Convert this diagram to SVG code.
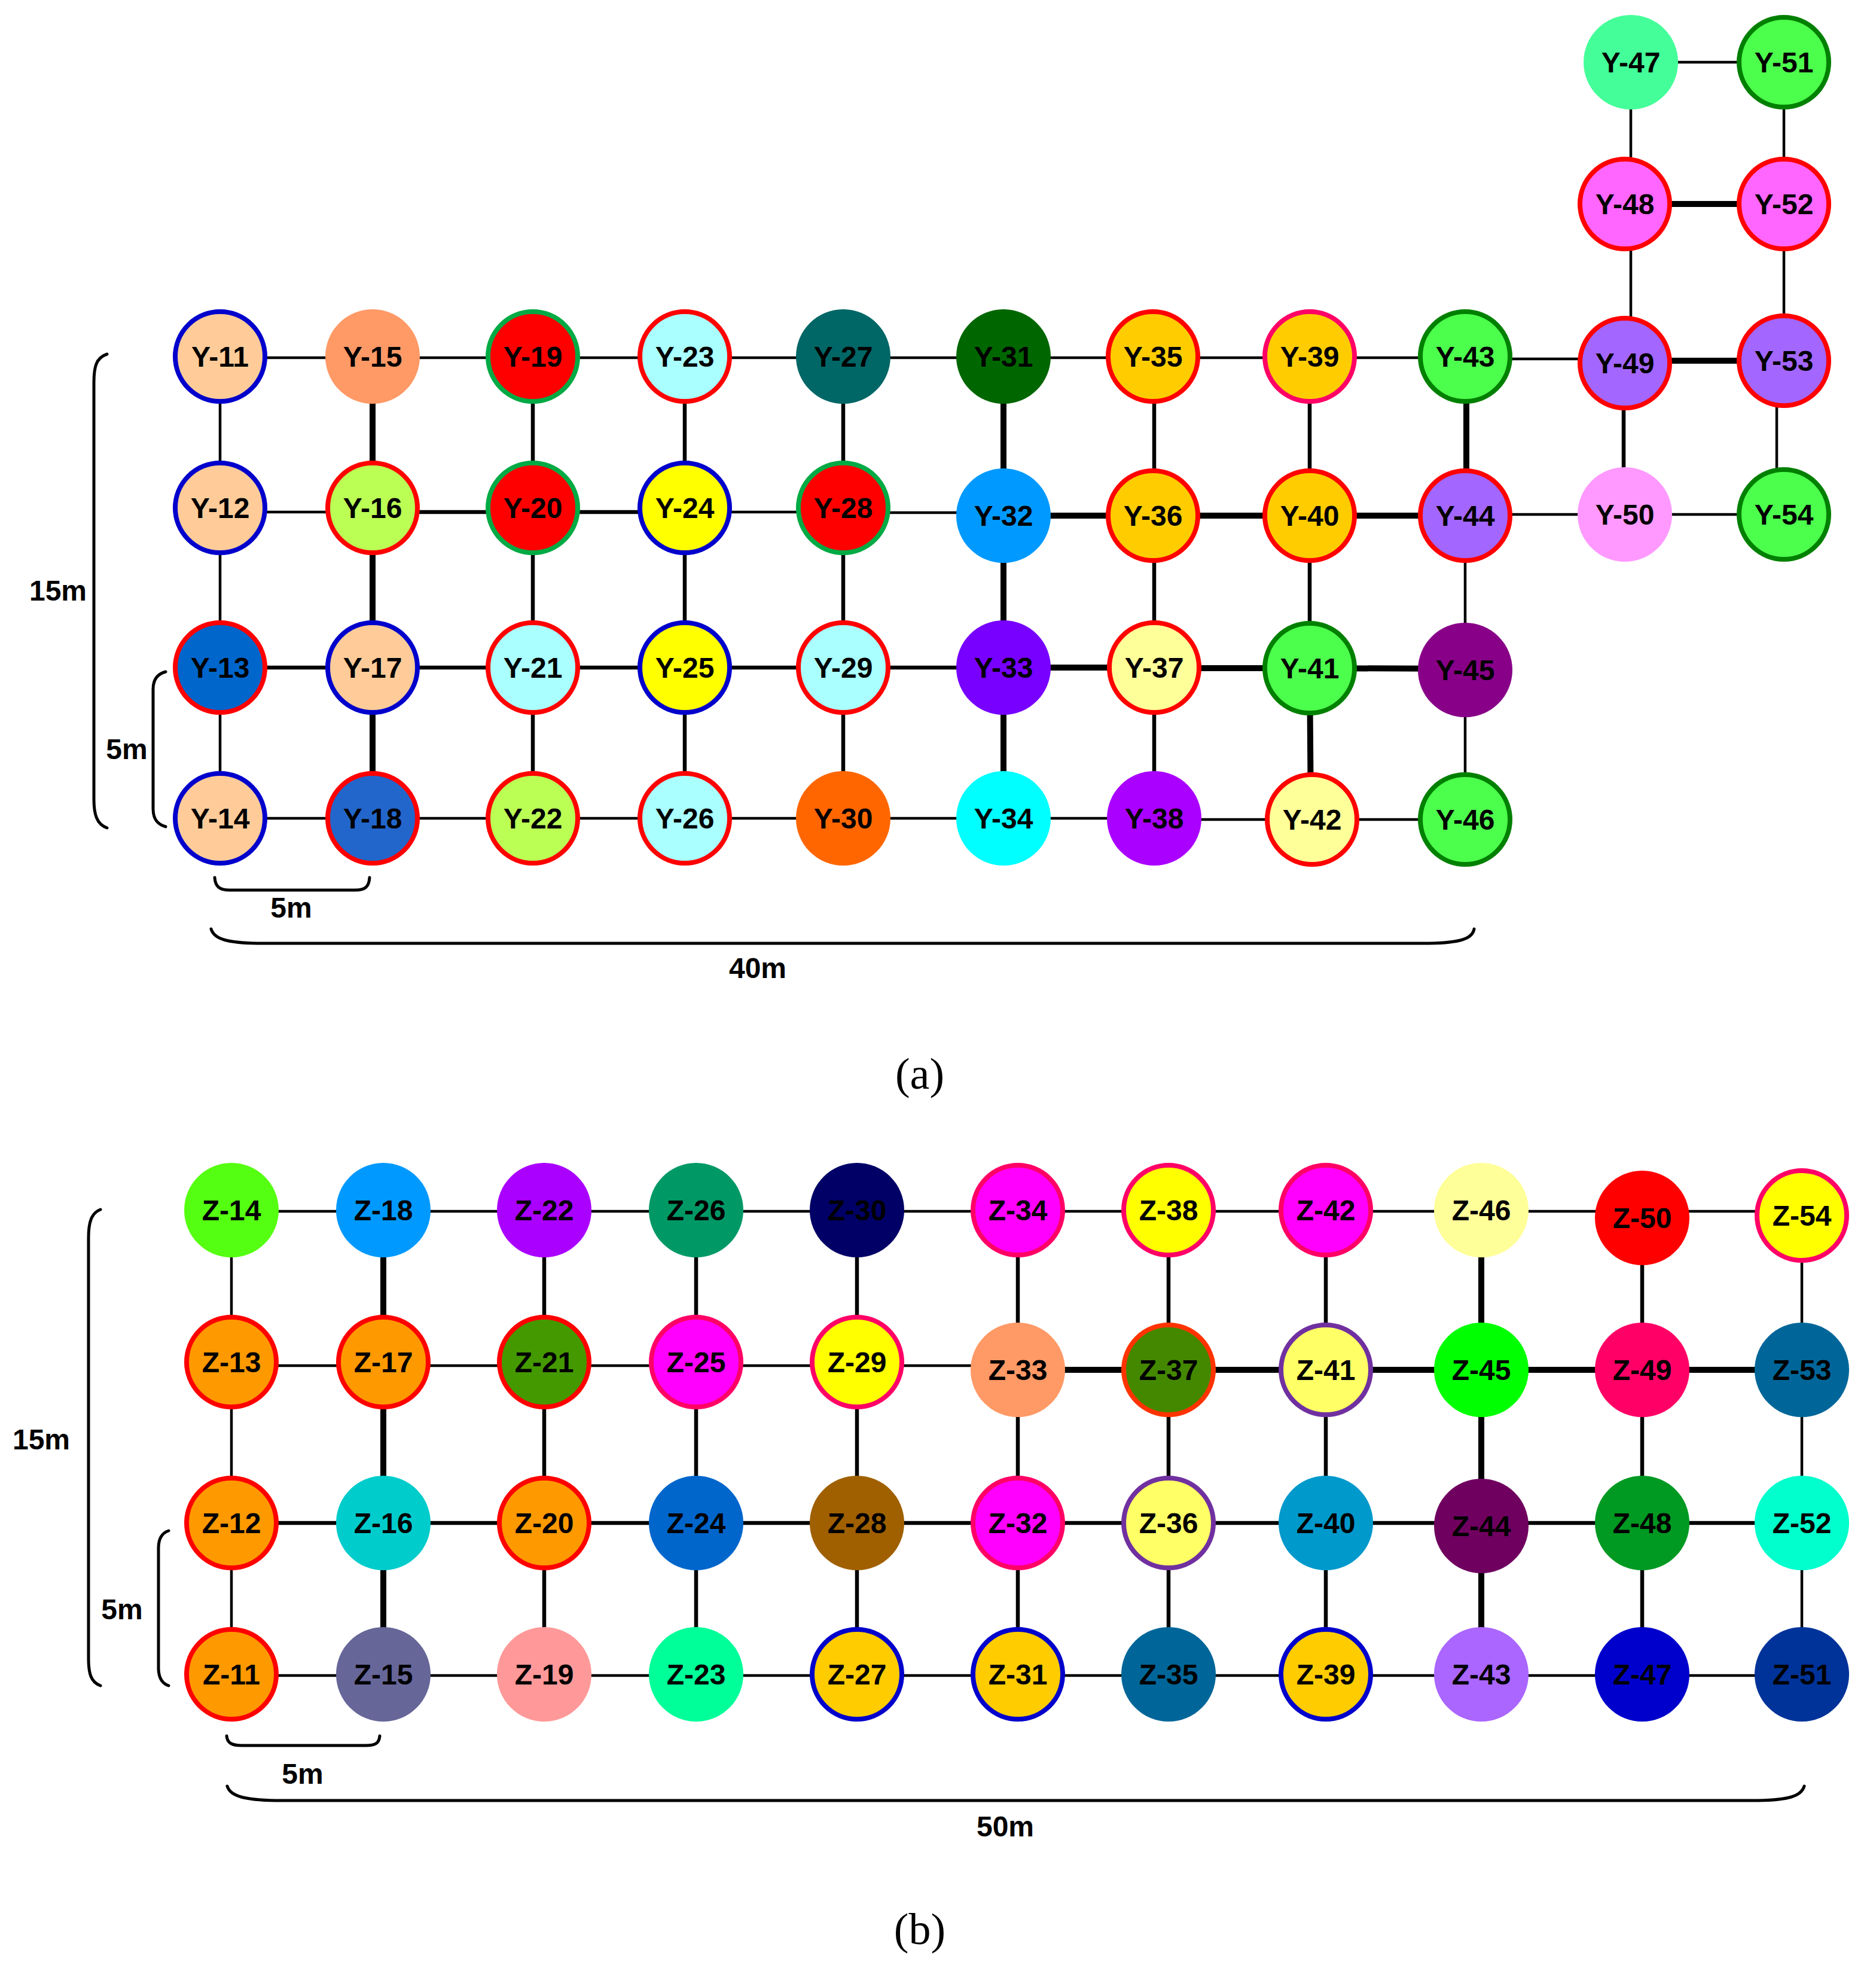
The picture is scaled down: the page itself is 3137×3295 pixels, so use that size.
<svg xmlns="http://www.w3.org/2000/svg" width="3137" height="3295" viewBox="0 0 3137 3295">
<style>
.bg{fill:#ffffff}
.e{stroke:#000;stroke-linecap:butt;fill:none}
.t{stroke-width:4.5}
.m{stroke-width:6.5}
.k{stroke-width:10}
.n circle{stroke-width:8}
.n text{font-family:"Liberation Sans",Arial,sans-serif;font-weight:bold;font-size:48px;text-anchor:middle;fill:#000}
.br{stroke:#000;stroke-width:5;fill:none;stroke-linecap:round}
.lbl{font-family:"Liberation Sans",Arial,sans-serif;font-weight:bold;font-size:48px;text-anchor:middle;fill:#000}
.cap{font-family:"Liberation Serif","Times New Roman",serif;font-size:74px;text-anchor:middle;fill:#000}
</style>
<rect class="bg" x="0" y="0" width="3137" height="3295"/>

<g id="connectors">
<!-- Y grid horizontals -->
<line class="e t" x1="368" y1="598" x2="623" y2="598"/>
<line class="e t" x1="623" y1="598" x2="891" y2="598"/>
<line class="e t" x1="891" y1="598" x2="1145" y2="598"/>
<line class="e t" x1="1145" y1="598" x2="1410" y2="598"/>
<line class="e t" x1="1410" y1="598" x2="1678" y2="598"/>
<line class="e t" x1="1678" y1="598" x2="1928" y2="598"/>
<line class="e t" x1="1928" y1="598" x2="2190" y2="598"/>
<line class="e t" x1="2190" y1="598" x2="2450" y2="598"/>
<line class="e t" x1="2450" y1="600" x2="2717" y2="600"/>
<line class="e k" x1="2717" y1="603" x2="2983" y2="603"/>
<line class="e t" x1="2727" y1="104" x2="2983" y2="104"/>
<line class="e k" x1="2717" y1="341" x2="2983" y2="341"/>
<line class="e t" x1="368" y1="856" x2="623" y2="856"/>
<line class="e m" x1="623" y1="856" x2="891" y2="856"/>
<line class="e m" x1="891" y1="856" x2="1145" y2="856"/>
<line class="e t" x1="1145" y1="856" x2="1410" y2="856"/>
<line class="e t" x1="1410" y1="857" x2="1678" y2="857"/>
<line class="e k" x1="1678" y1="862" x2="1928" y2="862"/>
<line class="e k" x1="1928" y1="862" x2="2190" y2="862"/>
<line class="e k" x1="2190" y1="862" x2="2450" y2="862"/>
<line class="e t" x1="2450" y1="860" x2="2717" y2="860"/>
<line class="e t" x1="2717" y1="860" x2="2983" y2="860"/>
<line class="e m" x1="368" y1="1116" x2="623" y2="1116"/>
<line class="e m" x1="623" y1="1116" x2="891" y2="1116"/>
<line class="e m" x1="891" y1="1116" x2="1145" y2="1116"/>
<line class="e m" x1="1145" y1="1116" x2="1410" y2="1116"/>
<line class="e m" x1="1410" y1="1116" x2="1678" y2="1116"/>
<line class="e k" x1="1678" y1="1116" x2="1928" y2="1116"/>
<line class="e k" x1="1928" y1="1117" x2="2190" y2="1117"/>
<line class="e k" x1="2190" y1="1117" x2="2450" y2="1118"/>
<line class="e t" x1="368" y1="1368" x2="623" y2="1368"/>
<line class="e t" x1="623" y1="1368" x2="891" y2="1368"/>
<line class="e t" x1="891" y1="1368" x2="1145" y2="1368"/>
<line class="e t" x1="1145" y1="1368" x2="1410" y2="1368"/>
<line class="e t" x1="1410" y1="1368" x2="1678" y2="1368"/>
<line class="e t" x1="1678" y1="1368" x2="1928" y2="1368"/>
<line class="e t" x1="1928" y1="1370" x2="2192" y2="1370"/>
<line class="e t" x1="2192" y1="1370" x2="2450" y2="1370"/>
<!-- Y grid verticals -->
<line class="e t" x1="368" y1="596" x2="368" y2="1368"/>
<line class="e k" x1="623" y1="596" x2="623" y2="1368"/>
<line class="e m" x1="891" y1="596" x2="891" y2="1368"/>
<line class="e m" x1="1145" y1="596" x2="1145" y2="1368"/>
<line class="e m" x1="1410" y1="596" x2="1410" y2="1368"/>
<line class="e k" x1="1678" y1="596" x2="1678" y2="1368"/>
<line class="e m" x1="1930" y1="596" x2="1930" y2="1368"/>
<line class="e m" x1="2190" y1="596" x2="2190" y2="1117"/>
<line class="e k" x1="2190" y1="1117" x2="2192" y2="1368"/>
<line class="e k" x1="2452" y1="596" x2="2452" y2="862"/>
<line class="e t" x1="2450" y1="862" x2="2450" y2="1368"/>
<line class="e t" x1="2727" y1="104" x2="2727" y2="607"/>
<line class="e m" x1="2715" y1="607" x2="2715" y2="860"/>
<line class="e t" x1="2983" y1="104" x2="2983" y2="603"/>
<line class="e t" x1="2971" y1="603" x2="2971" y2="860"/>

<!-- Z grid horizontals -->
<line class="e t" x1="387" y1="2025" x2="3013" y2="2025"/>
<line class="e t" x1="387" y1="2283" x2="1702" y2="2283"/>
<line class="e k" x1="1702" y1="2290" x2="3013" y2="2290"/>
<line class="e m" x1="387" y1="2546" x2="3013" y2="2546"/>
<line class="e t" x1="387" y1="2801" x2="3013" y2="2801"/>
<!-- Z grid verticals -->
<line class="e t" x1="387" y1="2023" x2="387" y2="2799"/>
<line class="e k" x1="641" y1="2023" x2="641" y2="2799"/>
<line class="e m" x1="910" y1="2023" x2="910" y2="2799"/>
<line class="e m" x1="1164" y1="2023" x2="1164" y2="2799"/>
<line class="e m" x1="1433" y1="2023" x2="1433" y2="2799"/>
<line class="e m" x1="1702" y1="2023" x2="1702" y2="2799"/>
<line class="e m" x1="1954" y1="2023" x2="1954" y2="2799"/>
<line class="e m" x1="2217" y1="2023" x2="2217" y2="2799"/>
<line class="e k" x1="2477" y1="2023" x2="2477" y2="2799"/>
<line class="e m" x1="2746" y1="2036" x2="2746" y2="2799"/>
<line class="e t" x1="3013" y1="2032" x2="3013" y2="2799"/>
</g>

<g id="dimensions">
<path class="br" d="M179,592 C160,598 157,615 157,640 L157,1336 C157,1362 162,1378 179,1384"/>
<path class="br" d="M277,1123 C262,1127 256,1137 256,1152 L256,1352 C256,1368 262,1378 277,1382"/>
<path class="br" d="M359,1467 C360,1483 368,1488 384,1488 L594,1488 C610,1488 617,1483 618,1467"/>
<path class="br" d="M353,1553 C358,1570 380,1576 430,1577 L2390,1577 C2440,1576 2462,1570 2465,1553"/>
<text class="lbl" x="97" y="1004">15m</text>
<text class="lbl" x="212" y="1269">5m</text>
<text class="lbl" x="487" y="1534">5m</text>
<text class="lbl" x="1267" y="1635">40m</text>
<text class="cap" x="1538" y="1820">(a)</text>

<path class="br" d="M168,2022 C152,2028 148,2045 148,2070 L148,2772 C148,2798 152,2812 168,2818"/>
<path class="br" d="M282,2559 C270,2563 265,2573 265,2588 L265,2788 C265,2804 270,2814 282,2818"/>
<path class="br" d="M379,2902 C380,2914 388,2918 404,2918 L612,2918 C628,2918 634,2914 635,2902"/>
<path class="br" d="M380,2986 C385,3003 410,3009 460,3010 L2940,3010 C2990,3009 3012,3003 3017,2986"/>
<text class="lbl" x="69" y="2423">15m</text>
<text class="lbl" x="204" y="2707">5m</text>
<text class="lbl" x="506" y="2982">5m</text>
<text class="lbl" x="1681" y="3070">50m</text>
<text class="cap" x="1538" y="3250">(b)</text>
</g>

<!-- Y nodes -->
<g id="Y-11" class="n"><circle cx="368" cy="596" r="75" fill="#ffcc99" stroke="#0000cc"/><text x="368" y="613">Y-11</text></g>
<g id="Y-12" class="n"><circle cx="368" cy="849" r="75" fill="#ffcc99" stroke="#0000cc"/><text x="368" y="866">Y-12</text></g>
<g id="Y-13" class="n"><circle cx="368" cy="1116" r="75" fill="#0066cc" stroke="#ff0000"/><text x="368" y="1133">Y-13</text></g>
<g id="Y-14" class="n"><circle cx="368" cy="1368" r="75" fill="#ffcc99" stroke="#0000cc"/><text x="368" y="1385">Y-14</text></g>
<g id="Y-15" class="n"><circle cx="623" cy="596" r="79" fill="#ff9966" stroke="none"/><text x="623" y="613">Y-15</text></g>
<g id="Y-16" class="n"><circle cx="623" cy="849" r="75" fill="#bbff55" stroke="#ff0000"/><text x="623" y="866">Y-16</text></g>
<g id="Y-17" class="n"><circle cx="623" cy="1116" r="75" fill="#ffcc99" stroke="#0000cc"/><text x="623" y="1133">Y-17</text></g>
<g id="Y-18" class="n"><circle cx="623" cy="1368" r="75" fill="#2266cc" stroke="#ff0000"/><text x="623" y="1385">Y-18</text></g>
<g id="Y-19" class="n"><circle cx="891" cy="596" r="75" fill="#ff0000" stroke="#00aa44"/><text x="891" y="613">Y-19</text></g>
<g id="Y-20" class="n"><circle cx="891" cy="849" r="75" fill="#ff0000" stroke="#00aa44"/><text x="891" y="866">Y-20</text></g>
<g id="Y-21" class="n"><circle cx="891" cy="1116" r="75" fill="#aaffff" stroke="#ff0000"/><text x="891" y="1133">Y-21</text></g>
<g id="Y-22" class="n"><circle cx="891" cy="1368" r="75" fill="#bbff55" stroke="#ff0000"/><text x="891" y="1385">Y-22</text></g>
<g id="Y-23" class="n"><circle cx="1145" cy="596" r="75" fill="#aaffff" stroke="#ff0000"/><text x="1145" y="613">Y-23</text></g>
<g id="Y-24" class="n"><circle cx="1145" cy="849" r="75" fill="#ffff00" stroke="#0000cc"/><text x="1145" y="866">Y-24</text></g>
<g id="Y-25" class="n"><circle cx="1145" cy="1116" r="75" fill="#ffff00" stroke="#0000cc"/><text x="1145" y="1133">Y-25</text></g>
<g id="Y-26" class="n"><circle cx="1145" cy="1368" r="75" fill="#aaffff" stroke="#ff0000"/><text x="1145" y="1385">Y-26</text></g>
<g id="Y-27" class="n"><circle cx="1410" cy="596" r="79" fill="#006666" stroke="none"/><text x="1410" y="613">Y-27</text></g>
<g id="Y-28" class="n"><circle cx="1410" cy="849" r="75" fill="#ff0000" stroke="#00aa44"/><text x="1410" y="866">Y-28</text></g>
<g id="Y-29" class="n"><circle cx="1410" cy="1116" r="75" fill="#aaffff" stroke="#ff0000"/><text x="1410" y="1133">Y-29</text></g>
<g id="Y-30" class="n"><circle cx="1410" cy="1368" r="79" fill="#ff6600" stroke="none"/><text x="1410" y="1385">Y-30</text></g>
<g id="Y-31" class="n"><circle cx="1678" cy="596" r="79" fill="#006600" stroke="none"/><text x="1678" y="613">Y-31</text></g>
<g id="Y-32" class="n"><circle cx="1678" cy="862" r="79" fill="#0099ff" stroke="none"/><text x="1678" y="879">Y-32</text></g>
<g id="Y-33" class="n"><circle cx="1678" cy="1116" r="79" fill="#7700ff" stroke="none"/><text x="1678" y="1133">Y-33</text></g>
<g id="Y-34" class="n"><circle cx="1678" cy="1368" r="79" fill="#00ffff" stroke="none"/><text x="1678" y="1385">Y-34</text></g>
<g id="Y-35" class="n"><circle cx="1928" cy="596" r="75" fill="#ffcc00" stroke="#ff0000"/><text x="1928" y="613">Y-35</text></g>
<g id="Y-36" class="n"><circle cx="1928" cy="862" r="75" fill="#ffcc00" stroke="#ff0000"/><text x="1928" y="879">Y-36</text></g>
<g id="Y-37" class="n"><circle cx="1930" cy="1116" r="75" fill="#ffff99" stroke="#ff0000"/><text x="1930" y="1133">Y-37</text></g>
<g id="Y-38" class="n"><circle cx="1930" cy="1368" r="79" fill="#aa00ff" stroke="none"/><text x="1930" y="1385">Y-38</text></g>
<g id="Y-39" class="n"><circle cx="2190" cy="596" r="75" fill="#ffcc00" stroke="#ff0066"/><text x="2190" y="613">Y-39</text></g>
<g id="Y-40" class="n"><circle cx="2190" cy="862" r="75" fill="#ffcc00" stroke="#ff0000"/><text x="2190" y="879">Y-40</text></g>
<g id="Y-41" class="n"><circle cx="2190" cy="1117" r="75" fill="#4dff4d" stroke="#008000"/><text x="2190" y="1134">Y-41</text></g>
<g id="Y-42" class="n"><circle cx="2194" cy="1370" r="75" fill="#ffff99" stroke="#ff0000"/><text x="2194" y="1387">Y-42</text></g>
<g id="Y-43" class="n"><circle cx="2450" cy="596" r="75" fill="#4dff4d" stroke="#008000"/><text x="2450" y="613">Y-43</text></g>
<g id="Y-44" class="n"><circle cx="2450" cy="862" r="75" fill="#a366ff" stroke="#ff0000"/><text x="2450" y="879">Y-44</text></g>
<g id="Y-45" class="n"><circle cx="2450" cy="1120" r="79" fill="#880088" stroke="none"/><text x="2450" y="1137">Y-45</text></g>
<g id="Y-46" class="n"><circle cx="2450" cy="1370" r="75" fill="#4dff4d" stroke="#008000"/><text x="2450" y="1387">Y-46</text></g>
<g id="Y-47" class="n"><circle cx="2727" cy="104" r="79" fill="#44ff99" stroke="none"/><text x="2727" y="121">Y-47</text></g>
<g id="Y-48" class="n"><circle cx="2717" cy="341" r="75" fill="#ff66ff" stroke="#ff0000"/><text x="2717" y="358">Y-48</text></g>
<g id="Y-49" class="n"><circle cx="2717" cy="607" r="75" fill="#a366ff" stroke="#ff0000"/><text x="2717" y="624">Y-49</text></g>
<g id="Y-50" class="n"><circle cx="2717" cy="860" r="79" fill="#ff99ff" stroke="none"/><text x="2717" y="877">Y-50</text></g>
<g id="Y-51" class="n"><circle cx="2983" cy="104" r="75" fill="#4dff4d" stroke="#008000"/><text x="2983" y="121">Y-51</text></g>
<g id="Y-52" class="n"><circle cx="2983" cy="341" r="75" fill="#ff66ff" stroke="#ff0000"/><text x="2983" y="358">Y-52</text></g>
<g id="Y-53" class="n"><circle cx="2983" cy="603" r="75" fill="#a366ff" stroke="#ff0000"/><text x="2983" y="620">Y-53</text></g>
<g id="Y-54" class="n"><circle cx="2983" cy="860" r="75" fill="#4dff4d" stroke="#008000"/><text x="2983" y="877">Y-54</text></g>

<!-- Z nodes -->
<g id="Z-11" class="n"><circle cx="387" cy="2799" r="75" fill="#ff9900" stroke="#ff0000"/><text x="387" y="2816">Z-11</text></g>
<g id="Z-12" class="n"><circle cx="387" cy="2546" r="75" fill="#ff9900" stroke="#ff0000"/><text x="387" y="2563">Z-12</text></g>
<g id="Z-13" class="n"><circle cx="387" cy="2277" r="75" fill="#ff9900" stroke="#ff0000"/><text x="387" y="2294">Z-13</text></g>
<g id="Z-14" class="n"><circle cx="387" cy="2023" r="79" fill="#55ff11" stroke="none"/><text x="387" y="2040">Z-14</text></g>
<g id="Z-15" class="n"><circle cx="641" cy="2799" r="79" fill="#666699" stroke="none"/><text x="641" y="2816">Z-15</text></g>
<g id="Z-16" class="n"><circle cx="641" cy="2546" r="79" fill="#00cccc" stroke="none"/><text x="641" y="2563">Z-16</text></g>
<g id="Z-17" class="n"><circle cx="641" cy="2277" r="75" fill="#ff9900" stroke="#ff0000"/><text x="641" y="2294">Z-17</text></g>
<g id="Z-18" class="n"><circle cx="641" cy="2023" r="79" fill="#0099ff" stroke="none"/><text x="641" y="2040">Z-18</text></g>
<g id="Z-19" class="n"><circle cx="910" cy="2799" r="79" fill="#ff9999" stroke="none"/><text x="910" y="2816">Z-19</text></g>
<g id="Z-20" class="n"><circle cx="910" cy="2546" r="75" fill="#ff9900" stroke="#ff0000"/><text x="910" y="2563">Z-20</text></g>
<g id="Z-21" class="n"><circle cx="910" cy="2277" r="75" fill="#449900" stroke="#ff0000"/><text x="910" y="2294">Z-21</text></g>
<g id="Z-22" class="n"><circle cx="910" cy="2023" r="79" fill="#aa00ff" stroke="none"/><text x="910" y="2040">Z-22</text></g>
<g id="Z-23" class="n"><circle cx="1164" cy="2799" r="79" fill="#00ff99" stroke="none"/><text x="1164" y="2816">Z-23</text></g>
<g id="Z-24" class="n"><circle cx="1164" cy="2546" r="79" fill="#0066cc" stroke="none"/><text x="1164" y="2563">Z-24</text></g>
<g id="Z-25" class="n"><circle cx="1164" cy="2277" r="75" fill="#ff00ff" stroke="#ff0066"/><text x="1164" y="2294">Z-25</text></g>
<g id="Z-26" class="n"><circle cx="1164" cy="2023" r="79" fill="#009966" stroke="none"/><text x="1164" y="2040">Z-26</text></g>
<g id="Z-27" class="n"><circle cx="1433" cy="2799" r="75" fill="#ffcc00" stroke="#0000cc"/><text x="1433" y="2816">Z-27</text></g>
<g id="Z-28" class="n"><circle cx="1433" cy="2546" r="79" fill="#a06000" stroke="none"/><text x="1433" y="2563">Z-28</text></g>
<g id="Z-29" class="n"><circle cx="1433" cy="2277" r="75" fill="#ffff00" stroke="#ff0066"/><text x="1433" y="2294">Z-29</text></g>
<g id="Z-30" class="n"><circle cx="1433" cy="2023" r="79" fill="#000066" stroke="none"/><text x="1433" y="2040">Z-30</text></g>
<g id="Z-31" class="n"><circle cx="1702" cy="2799" r="75" fill="#ffcc00" stroke="#0000cc"/><text x="1702" y="2816">Z-31</text></g>
<g id="Z-32" class="n"><circle cx="1702" cy="2546" r="75" fill="#ff00ff" stroke="#ff0066"/><text x="1702" y="2563">Z-32</text></g>
<g id="Z-33" class="n"><circle cx="1702" cy="2290" r="79" fill="#ff9966" stroke="none"/><text x="1702" y="2307">Z-33</text></g>
<g id="Z-34" class="n"><circle cx="1702" cy="2023" r="75" fill="#ff00ff" stroke="#ff0066"/><text x="1702" y="2040">Z-34</text></g>
<g id="Z-35" class="n"><circle cx="1954" cy="2799" r="79" fill="#006699" stroke="none"/><text x="1954" y="2816">Z-35</text></g>
<g id="Z-36" class="n"><circle cx="1954" cy="2546" r="75" fill="#ffff66" stroke="#7030a0"/><text x="1954" y="2563">Z-36</text></g>
<g id="Z-37" class="n"><circle cx="1954" cy="2290" r="75" fill="#448800" stroke="#ff3300"/><text x="1954" y="2307">Z-37</text></g>
<g id="Z-38" class="n"><circle cx="1954" cy="2023" r="75" fill="#ffff00" stroke="#ff0066"/><text x="1954" y="2040">Z-38</text></g>
<g id="Z-39" class="n"><circle cx="2217" cy="2799" r="75" fill="#ffcc00" stroke="#0000cc"/><text x="2217" y="2816">Z-39</text></g>
<g id="Z-40" class="n"><circle cx="2217" cy="2546" r="79" fill="#0099cc" stroke="none"/><text x="2217" y="2563">Z-40</text></g>
<g id="Z-41" class="n"><circle cx="2217" cy="2290" r="75" fill="#ffff66" stroke="#7030a0"/><text x="2217" y="2307">Z-41</text></g>
<g id="Z-42" class="n"><circle cx="2217" cy="2023" r="75" fill="#ff00ff" stroke="#ff0066"/><text x="2217" y="2040">Z-42</text></g>
<g id="Z-43" class="n"><circle cx="2477" cy="2799" r="79" fill="#aa66ff" stroke="none"/><text x="2477" y="2816">Z-43</text></g>
<g id="Z-44" class="n"><circle cx="2477" cy="2551" r="79" fill="#700060" stroke="none"/><text x="2477" y="2568">Z-44</text></g>
<g id="Z-45" class="n"><circle cx="2477" cy="2290" r="79" fill="#00ff00" stroke="none"/><text x="2477" y="2307">Z-45</text></g>
<g id="Z-46" class="n"><circle cx="2477" cy="2023" r="79" fill="#ffff99" stroke="none"/><text x="2477" y="2040">Z-46</text></g>
<g id="Z-47" class="n"><circle cx="2746" cy="2799" r="79" fill="#0000cc" stroke="none"/><text x="2746" y="2816">Z-47</text></g>
<g id="Z-48" class="n"><circle cx="2746" cy="2546" r="79" fill="#009922" stroke="none"/><text x="2746" y="2563">Z-48</text></g>
<g id="Z-49" class="n"><circle cx="2746" cy="2290" r="79" fill="#ff0066" stroke="none"/><text x="2746" y="2307">Z-49</text></g>
<g id="Z-50" class="n"><circle cx="2746" cy="2036" r="79" fill="#ff0000" stroke="none"/><text x="2746" y="2053">Z-50</text></g>
<g id="Z-51" class="n"><circle cx="3013" cy="2799" r="79" fill="#003399" stroke="none"/><text x="3013" y="2816">Z-51</text></g>
<g id="Z-52" class="n"><circle cx="3013" cy="2546" r="79" fill="#00ffcc" stroke="none"/><text x="3013" y="2563">Z-52</text></g>
<g id="Z-53" class="n"><circle cx="3013" cy="2290" r="79" fill="#006699" stroke="none"/><text x="3013" y="2307">Z-53</text></g>
<g id="Z-54" class="n"><circle cx="3013" cy="2032" r="75" fill="#ffff00" stroke="#ff0066"/><text x="3013" y="2049">Z-54</text></g>
</svg>
